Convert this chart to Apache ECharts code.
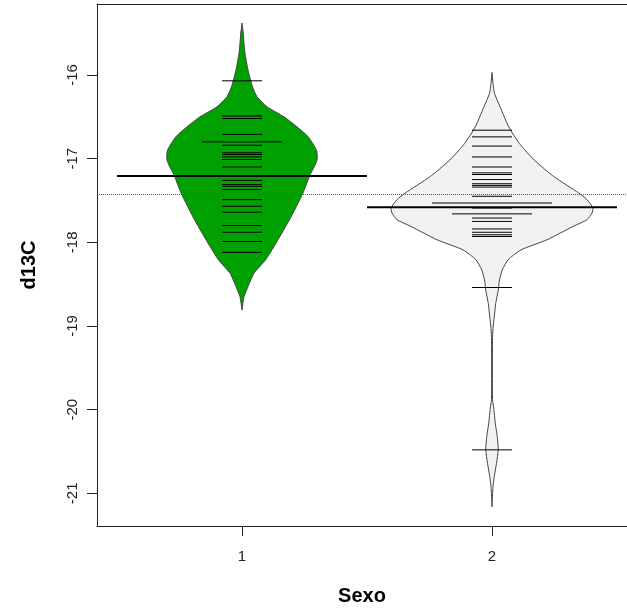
<!DOCTYPE html>
<html>
<head>
<meta charset="utf-8">
<script src="https://cdn.jsdelivr.net/npm/echarts@6/dist/echarts.min.js"></script>
<style>
  html, body { margin: 0; padding: 0; background: #fff; }
  #bean { width: 627px; height: 611px; }
</style>
</head>
<body>
<div id="bean"></div>
<script>
// grupos (Sexo) y ticks
const categories = ['1', '2'];
const yTicks = [-21, -20, -19, -18, -17, -16];

// d13C de cada observación
const sexo1 = [-16.07, -16.49, -16.52, -16.71, -16.80, -16.80, -16.84, -16.93, -16.95, -16.98,
  -17.01, -17.10, -17.26, -17.31, -17.33, -17.37, -17.49, -17.57, -17.64, -17.80,
  -17.88, -17.99, -18.12];
const sexo2 = [-16.66, -16.74, -16.85, -16.98, -17.10, -17.17, -17.19, -17.25, -17.30, -17.32,
  -17.34, -17.45, -17.53, -17.53, -17.53, -17.59, -17.66, -17.66, -17.71, -17.75,
  -17.84, -17.88, -17.91, -17.93, -18.54, -20.48];

// medias de cada bean y media global (línea punteada)
const beanMeans = [-17.207, -17.581];
const overallMean = -17.422;

// contorno de cada bean: [d13C, medio ancho en unidades de x]
const bean1Shape = [
  [-15.38, 0], [-15.50, 0.005], [-15.62, 0.008], [-15.74, 0.012], [-15.94, 0.024],
  [-16.14, 0.042], [-16.26, 0.06], [-16.38, 0.10], [-16.50, 0.168], [-16.62, 0.22],
  [-16.74, 0.265], [-16.90, 0.298], [-17.02, 0.30], [-17.21, 0.27], [-17.41, 0.244],
  [-17.73, 0.19], [-18.05, 0.128], [-18.21, 0.094], [-18.37, 0.048], [-18.53, 0.024],
  [-18.65, 0.008], [-18.81, 0]
];
const bean2Shape = [
  [-15.97, 0], [-16.10, 0.004], [-16.22, 0.01], [-16.42, 0.038], [-16.62, 0.067],
  [-16.82, 0.11], [-17.02, 0.17], [-17.22, 0.25], [-17.41, 0.347], [-17.49, 0.38],
  [-17.59, 0.404], [-17.65, 0.40], [-17.73, 0.38], [-17.81, 0.324], [-17.97, 0.22],
  [-18.09, 0.116], [-18.21, 0.064], [-18.33, 0.041], [-18.45, 0.03], [-18.57, 0.025],
  [-18.73, 0.015], [-18.89, 0.009], [-19.03, 0.004], [-19.17, 0.002], [-19.88, 0.002],
  [-19.98, 0.007], [-20.16, 0.013], [-20.32, 0.021], [-20.48, 0.025], [-20.64, 0.018],
  [-20.80, 0.009], [-20.92, 0.004], [-21.16, 0]
];

const groups = [sexo1, sexo2];
const shapes = [bean1Shape, bean2Shape];
const beanFill = ['#00A000', '#F2F2F2'];

// beanlines: valores repetidos dan líneas más largas
let beanLineData = [];
groups.forEach((vals, gi) => {
  let counts = {};
  vals.forEach(v => { counts[v] = (counts[v] || 0) + 1; });
  Object.keys(counts).forEach(k => {
    beanLineData.push([gi + 1, Number(k), counts[k]]);
  });
});

const font = "'Liberation Sans', Arial, sans-serif";
const axisColor = '#222';
let myChart = echarts.init(document.getElementById('bean'));

myChart.setOption({
  animation: false,
  grid: {
    left: 97,
    top: 4,
    right: 0,
    bottom: 85
  },
  xAxis: [{
    type: 'value',
    min: 0.42,
    max: 2.54,
    name: 'Sexo',
    nameLocation: 'middle',
    nameGap: 60,
    nameTextStyle: { fontFamily: font, fontSize: 20, fontWeight: 'bold', color: '#000' },
    axisLine: { show: true, onZero: false, lineStyle: { color: axisColor, width: 1 } },
    splitLine: { show: false },
    axisTick: { show: true, length: 10, customValues: [1, 2], lineStyle: { color: axisColor } },
    axisLabel: {
      customValues: [1, 2],
      formatter: v => categories[Math.round(v) - 1],
      margin: 23,
      fontFamily: font,
      fontSize: 15,
      color: '#222'
    }
  }, {
    // borde superior de la caja
    type: 'value',
    position: 'top',
    min: 0.42,
    max: 2.54,
    axisLine: { show: true, onZero: false, lineStyle: { color: axisColor, width: 1 } },
    axisTick: { show: false },
    axisLabel: { show: false },
    splitLine: { show: false }
  }],
  yAxis: {
    type: 'value',
    min: -21.39,
    max: -15.152,
    name: 'd13C',
    nameLocation: 'middle',
    nameGap: 58,
    nameTextStyle: { fontFamily: font, fontSize: 20, fontWeight: 'bold', color: '#000' },
    axisLine: { show: true, lineStyle: { color: axisColor, width: 1 } },
    splitLine: { show: false },
    axisTick: { show: true, length: 10, customValues: yTicks, lineStyle: { color: axisColor } },
    axisLabel: {
      customValues: yTicks,
      rotate: 90,
      margin: 17,
      fontFamily: font,
      fontSize: 15,
      color: '#222'
    }
  },
  series: [
    {
      // contorno de los beans
      type: 'custom',
      data: [0, 1],
      z: 2,
      markLine: {
        silent: true,
        symbol: 'none',
        label: { show: false },
        lineStyle: { type: 'dotted', color: '#555', width: 1 },
        data: [{ yAxis: overallMean }]
      },
      renderItem: (params, api) => {
        const gi = api.value(0);
        const cx = gi + 1;
        const shp = shapes[gi];
        let pts = [];
        shp.forEach(p => pts.push(api.coord([cx + p[1], p[0]])));
        for (let i = shp.length - 1; i >= 0; i--) {
          pts.push(api.coord([cx - shp[i][1], shp[i][0]]));
        }
        return {
          type: 'polygon',
          shape: { points: pts, smooth: 0.2 },
          style: { fill: beanFill[gi], stroke: '#444', lineWidth: 1 }
        };
      }
    },
    {
      // una línea por observación
      type: 'custom',
      data: beanLineData,
      z: 3,
      renderItem: (params, api) => {
        const x = api.value(0), v = api.value(1), n = api.value(2);
        const a = api.coord([x - 0.08 * n, v]);
        const b = api.coord([x + 0.08 * n, v]);
        return {
          type: 'line',
          shape: { x1: a[0], y1: a[1], x2: b[0], y2: b[1] },
          style: { stroke: '#000', lineWidth: 1 }
        };
      }
    },
    {
      // línea de la media de cada bean
      type: 'custom',
      data: beanMeans.map((m, i) => [i + 1, m]),
      z: 4,
      renderItem: (params, api) => {
        const x = api.value(0), v = api.value(1);
        const a = api.coord([x - 0.5, v]);
        const b = api.coord([x + 0.5, v]);
        return {
          type: 'line',
          shape: { x1: a[0], y1: a[1], x2: b[0], y2: b[1] },
          style: { stroke: '#000', lineWidth: 2 }
        };
      }
    }
  ]
});
</script>
</body>
</html>
